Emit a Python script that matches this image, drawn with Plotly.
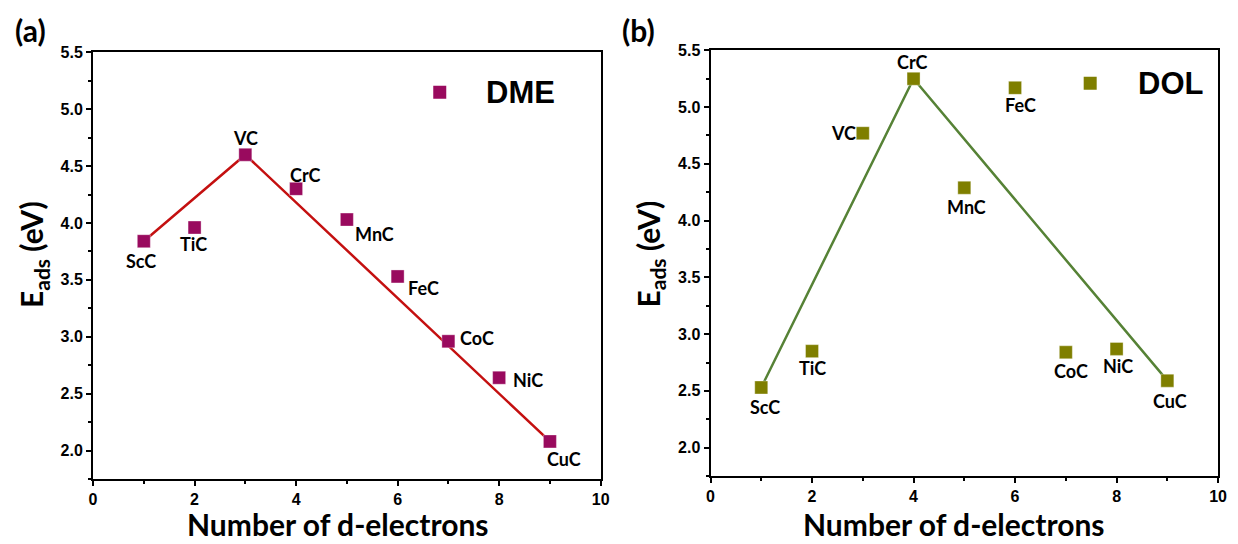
import plotly.graph_objects as go

# d-electron count and carbide names
d_electrons = [1, 2, 3, 4, 5, 6, 7, 8, 9]
carbides = ["ScC", "TiC", "VC", "CrC", "MnC", "FeC", "CoC", "NiC", "CuC"]

# adsorption energies (eV)
e_dme = [3.84, 3.96, 4.60, 4.30, 4.03, 3.53, 2.96, 2.64, 2.08]
e_dol = [2.53, 2.85, 4.77, 5.25, 4.29, 5.17, 2.84, 2.87, 2.59]

# trend line vertices (index into the arrays above)
dme_trend_idx = [0, 2, 8]
dol_trend_idx = [0, 3, 8]

# label offsets (px) for each point label
dme_label_shift = [(-3, -20), (-1, -16), (0, 17), (9, 14), (28, -14),
                   (26, -12), (29, 3), (29, -2), (14, -18)]
dol_label_shift = [(4, -20), (0, -17), (-19, 0), (-1, 17), (2, -19),
                   (5, -17), (5, -19), (1, -17), (3, -20)]

DME_MARK = "#990a5e"
DME_LINE = "#c41010"
DOL_MARK = "#7f7f00"
DOL_LINE = "#568236"

TICK_FONT = dict(family="Liberation Sans", size=16, color="black", weight="bold")
LABEL_FONT = dict(family="Lato", size=18, color="black", weight=700)
TITLE_FONT = dict(family="Lato", size=30, color="black", weight=700)

fig = go.Figure()

panels = [
    dict(x="x", y="y", e=e_dme, idx=dme_trend_idx, mark=DME_MARK, line=DME_LINE,
         shifts=dme_label_shift, legend="DME", leg_x=6.83, leg_y=5.15, leg_tx=8.43),
    dict(x="x2", y="y2", e=e_dol, idx=dol_trend_idx, mark=DOL_MARK, line=DOL_LINE,
         shifts=dol_label_shift, legend="DOL", leg_x=7.48, leg_y=5.21, leg_tx=9.06),
]

annotations = []
for p in panels:
    fig.add_trace(go.Scatter(
        x=[d_electrons[i] for i in p["idx"]], y=[p["e"][i] for i in p["idx"]],
        xaxis=p["x"], yaxis=p["y"], mode="lines",
        line=dict(color=p["line"], width=2.5), showlegend=False, hoverinfo="skip"))
    fig.add_trace(go.Scatter(
        x=d_electrons, y=p["e"], xaxis=p["x"], yaxis=p["y"], mode="markers",
        marker=dict(symbol="square", size=13, color=p["mark"],
                    line=dict(color="rgba(255,255,255,0.35)", width=1)),
        showlegend=False))
    # in-plot legend marker
    fig.add_trace(go.Scatter(
        x=[p["leg_x"]], y=[p["leg_y"]], xaxis=p["x"], yaxis=p["y"], mode="markers",
        marker=dict(symbol="square", size=13, color=p["mark"]),
        showlegend=False, hoverinfo="skip"))
    annotations.append(dict(
        x=p["leg_tx"], y=p["leg_y"], xref=p["x"], yref=p["y"], text=p["legend"],
        showarrow=False, xanchor="center", yanchor="middle",
        font=dict(family="Liberation Sans", size=31, color="black", weight=700)))
    for xi, yi, name, (dx, dy) in zip(d_electrons, p["e"], carbides, p["shifts"]):
        annotations.append(dict(
            x=xi, y=yi, xref=p["x"], yref=p["y"], text=name, showarrow=False,
            xanchor="center", yanchor="middle",
            xshift=dx, yshift=dy, font=LABEL_FONT))

W, H = 1238, 544
dom_a = dict(x=(90 / W, 603 / W), y=(1 - 478 / H, 1 - 45 / H))
dom_b = dict(x=(714 / W, 1227 / W), y=(1 - 475 / H, 1 - 43 / H))


def xaxis(domain, anchor):
    return dict(domain=domain, anchor=anchor, range=[0, 10], dtick=2, tick0=0,
                showgrid=False, zeroline=False, showline=True, mirror=True,
                linecolor="black", linewidth=2, ticks="outside", ticklen=5,
                tickwidth=2, tickcolor="black", tickfont=TICK_FONT,
                minor=dict(dtick=1, ticks="outside", ticklen=3, tickwidth=2,
                           tickcolor="black", showgrid=False))


def yaxis(domain, anchor):
    return dict(domain=domain, anchor=anchor, range=[1.75, 5.5], dtick=0.5,
                tick0=2.0, tickformat=".1f", showgrid=False, zeroline=False,
                showline=True, mirror=True, linecolor="black", linewidth=2,
                ticks="outside", ticklen=5, tickwidth=2, tickcolor="black",
                tickfont=TICK_FONT,
                minor=dict(dtick=0.25, ticks="outside", ticklen=3, tickwidth=2,
                           tickcolor="black", showgrid=False))


def paper_text(x_px, y_px, text, angle=0):
    return dict(x=x_px / W, y=1 - y_px / H, xref="paper", yref="paper",
                text=text, showarrow=False, xanchor="center", yanchor="middle",
                textangle=angle, font=TITLE_FONT)


# axis titles and panel tags
annotations += [
    paper_text(338, 524, "Number of d-electrons"),
    paper_text(960, 524, "Number of d-electrons"),
    paper_text(27, 22, "(a)"),
    paper_text(641, 22, "(b)"),
    paper_text(30, 250, "E<sub>ads</sub> (eV)", -90),
    paper_text(653, 250, "E<sub>ads</sub> (eV)", -90),
]

fig.update_layout(
    width=W, height=H, margin=dict(l=0, r=0, t=0, b=0),
    paper_bgcolor="white", plot_bgcolor="white",
    xaxis=xaxis(dom_a["x"], "y"), yaxis=yaxis(dom_a["y"], "x"),
    xaxis2=xaxis(dom_b["x"], "y2"), yaxis2=yaxis(dom_b["y"], "x2"),
    annotations=annotations, showlegend=False,
)

fig.write_html("out.html")
